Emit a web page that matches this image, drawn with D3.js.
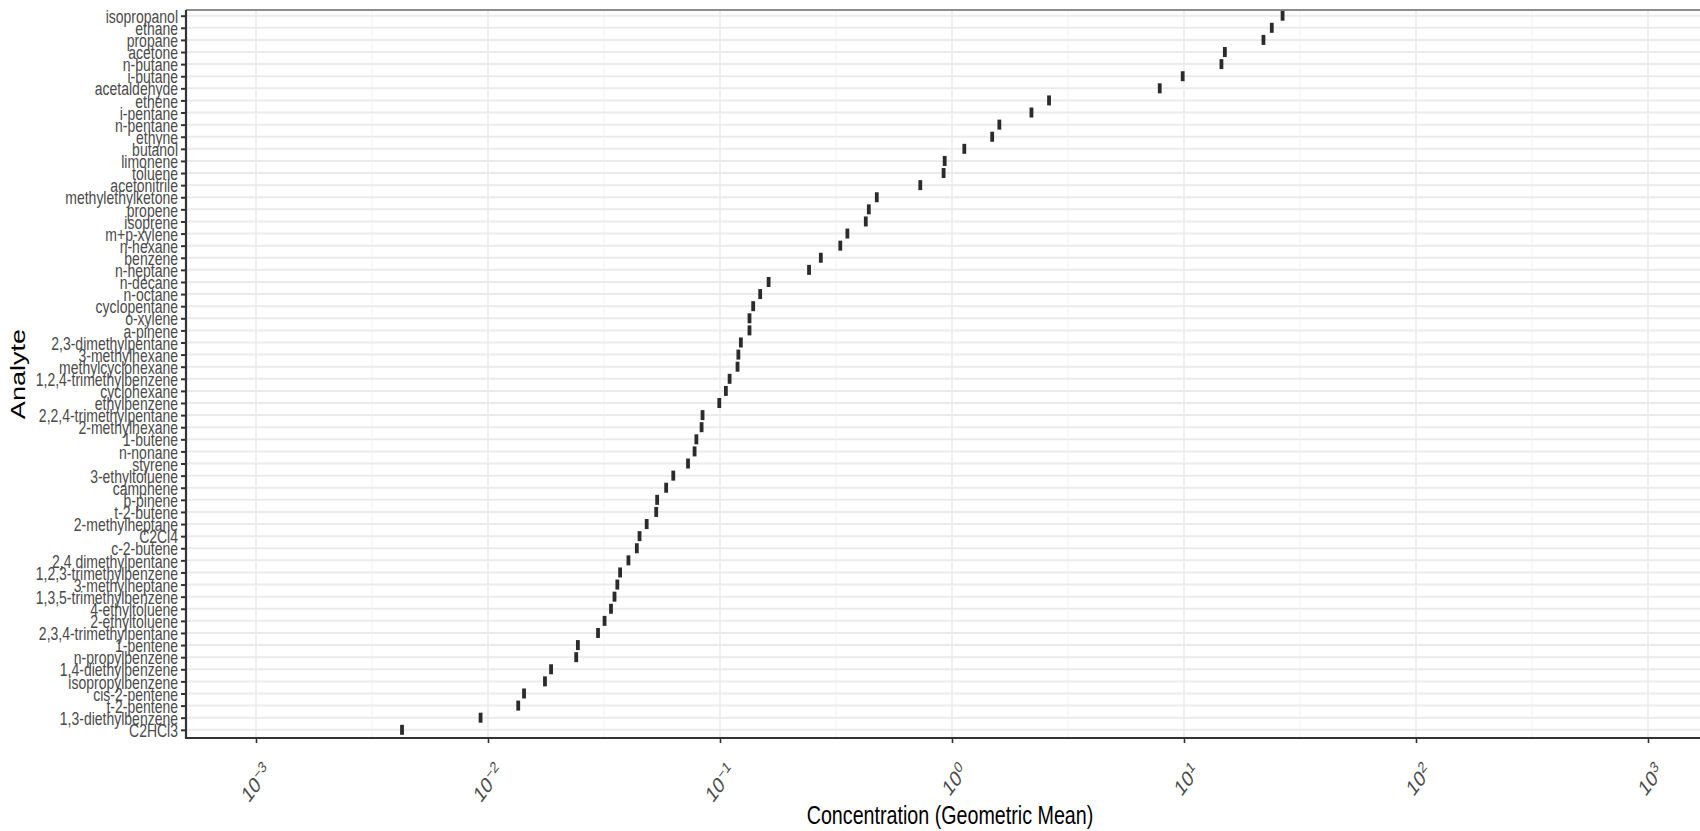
<!DOCTYPE html>
<html>
<head>
<meta charset="utf-8">
<script src="https://cdn.jsdelivr.net/npm/d3@7"></script>
<style>
body { margin: 0; background: #fff; }
text { font-family: "Liberation Sans", Arial, sans-serif; }
</style>
</head>
<body>
<svg id="chart"></svg>
<script>
// Data (geometric means, top to bottom)
const analytes = [
  "isopropanol", "ethane", "propane", "acetone", "n-butane", "i-butane",
  "acetaldehyde", "ethene", "i-pentane", "n-pentane", "ethyne", "butanol",
  "limonene", "toluene", "acetonitrile", "methylethylketone", "propene",
  "isoprene", "m+p-xylene", "n-hexane", "benzene", "n-heptane", "n-decane",
  "n-octane", "cyclopentane", "o-xylene", "a-pinene", "2,3-dimethylpentane",
  "3-methylhexane", "methylcyclohexane", "1,2,4-trimethylbenzene",
  "cyclohexane", "ethylbenzene", "2,2,4-trimethylpentane", "2-methylhexane",
  "1-butene", "n-nonane", "styrene", "3-ethyltoluene", "camphene", "b-pinene",
  "t-2-butene", "2-methylheptane", "C2Cl4", "c-2-butene", "2,4 dimethylpentane",
  "1,2,3-trimethylbenzene", "3-methylheptane", "1,3,5-trimethylbenzene",
  "4-ethyltoluene", "2-ethyltoluene", "2,3,4-trimethylpentane", "1-pentene",
  "n-propylbenzene", "1,4-diethylbenzene", "isopropylbenzene", "cis-2-pentene",
  "t-2-pentene", "1,3-diethylbenzene", "C2HCl3"
];
const concentration = [
  26.6, 23.9, 22.0, 15.0, 14.5, 9.87,
  7.86, 2.62, 2.20, 1.60, 1.49, 1.13,
  0.93, 0.92, 0.73, 0.474, 0.438,
  0.425, 0.354, 0.330, 0.272, 0.242, 0.162,
  0.149, 0.139, 0.134, 0.134, 0.123,
  0.120, 0.119, 0.110,
  0.106, 0.0993, 0.0841, 0.0833,
  0.0791, 0.0777, 0.0728, 0.0629, 0.0586, 0.0536,
  0.0531, 0.0483, 0.0450, 0.0438, 0.0403,
  0.0371, 0.0361, 0.0351,
  0.0339, 0.0318, 0.0298, 0.0244,
  0.0240, 0.0187, 0.0176, 0.0143,
  0.0135, 0.00929, 0.00426
];
const tickExponents = [-3, -2, -1, 0, 1, 2, 3];
const xTitle = "Concentration (Geometric Mean)";
const yTitle = "Analyte";

const data = analytes.map((name, i) => ({name: name, value: concentration[i]}));

const W = 1700, H = 831;
const panel = {left: 186, right: 1702, top: 10, bottom: 738};
const stretch = 1.32; // the reference text is drawn taller than it is wide

const svg = d3.select("#chart")
  .attr("width", W)
  .attr("height", H);

// Scales
const x = d3.scaleLog()
  .domain([1e-3, 1e3])
  .range([256, 1648]);

const y = d3.scalePoint()
  .domain(analytes)
  .range([15.7, 729.8]);

// Panel background
svg.append("rect")
  .attr("x", panel.left).attr("y", panel.top)
  .attr("width", panel.right - panel.left).attr("height", panel.bottom - panel.top)
  .attr("fill", "#fff");

// Minor gridlines at half decades
const minorTicks = tickExponents.slice(0, -1).map(e => Math.pow(10, e + 0.5));
svg.append("g").selectAll("line")
  .data(minorTicks)
  .join("line")
  .attr("x1", d => x(d)).attr("x2", d => x(d))
  .attr("y1", panel.top).attr("y2", panel.bottom)
  .attr("stroke", "#f0f0f0")
  .attr("stroke-width", 0.9);

// Major gridlines
svg.append("g").selectAll("line")
  .data(tickExponents)
  .join("line")
  .attr("x1", d => x(Math.pow(10, d))).attr("x2", d => x(Math.pow(10, d)))
  .attr("y1", panel.top).attr("y2", panel.bottom)
  .attr("stroke", "#ebebeb")
  .attr("stroke-width", 1.6);

svg.append("g").selectAll("line")
  .data(analytes)
  .join("line")
  .attr("x1", panel.left).attr("x2", panel.right)
  .attr("y1", d => y(d)).attr("y2", d => y(d))
  .attr("stroke", "#ebebeb")
  .attr("stroke-width", 2);

// Marks
svg.append("g").selectAll("rect")
  .data(data)
  .join("rect")
  .attr("x", d => x(d.value) - 1.9)
  .attr("y", d => y(d.name) - 5)
  .attr("width", 3.8)
  .attr("height", 10)
  .attr("fill", "#2b2b2b");

// Panel border
svg.append("line")
  .attr("x1", panel.left).attr("x2", panel.right)
  .attr("y1", panel.top).attr("y2", panel.top)
  .attr("stroke", "#666").attr("stroke-width", 1.6);
svg.append("line")
  .attr("x1", panel.left).attr("x2", panel.left)
  .attr("y1", panel.top).attr("y2", panel.bottom + 1)
  .attr("stroke", "#333").attr("stroke-width", 2.2);
svg.append("line")
  .attr("x1", panel.left).attr("x2", panel.right)
  .attr("y1", panel.bottom).attr("y2", panel.bottom)
  .attr("stroke", "#333").attr("stroke-width", 2.2);

// Y axis
const yAxis = svg.append("g")
  .attr("transform", `translate(${panel.left - 1},0)`)
  .call(d3.axisLeft(y).tickSize(4).tickPadding(0));
yAxis.select(".domain").remove();
yAxis.selectAll(".tick line").attr("stroke", "#333").attr("stroke-width", 2);
yAxis.selectAll(".tick text")
  .attr("x", null).attr("dy", null)
  .attr("transform", `translate(-7,0) scale(1,${stretch})`)
  .attr("dy", "0.36em")
  .attr("fill", "#4a4a4a")
  .style("font-size", "14px")
  .style("font-family", "'Liberation Sans', Arial, sans-serif");

// X axis
const xAxis = svg.append("g")
  .attr("transform", `translate(0,${panel.bottom + 1})`)
  .call(d3.axisBottom(x)
    .tickValues(tickExponents.map(e => Math.pow(10, e)))
    .tickSize(4)
    .tickFormat(""));
xAxis.select(".domain").remove();
xAxis.selectAll(".tick line").attr("stroke", "#333").attr("stroke-width", 1.6);

const xLabels = svg.append("g").selectAll("text")
  .data(tickExponents)
  .join("text")
  .attr("transform", d => `translate(${x(Math.pow(10, d)) + 7},${panel.bottom + 24}) scale(1,${stretch}) rotate(-45)`)
  .attr("text-anchor", "end")
  .attr("dy", "0.72em")
  .attr("fill", "#4a4a4a")
  .style("font-size", "17px");
xLabels.append("tspan").text("10");
xLabels.append("tspan")
  .attr("dy", "-0.5em")
  .style("font-size", "12px")
  .text(d => String(d).replace("-", "\u2212"));

// Axis titles
svg.append("text")
  .attr("transform", `translate(950,824) scale(1,${stretch})`)
  .attr("text-anchor", "middle")
  .attr("fill", "#000")
  .style("font-size", "19.7px")
  .text(xTitle);

svg.append("text")
  .attr("transform", `translate(25,${(panel.top + panel.bottom) / 2}) scale(1,${stretch}) rotate(-90)`)
  .attr("text-anchor", "middle")
  .attr("fill", "#000")
  .style("font-size", "20.5px")
  .text(yTitle);
</script>
</body>
</html>
